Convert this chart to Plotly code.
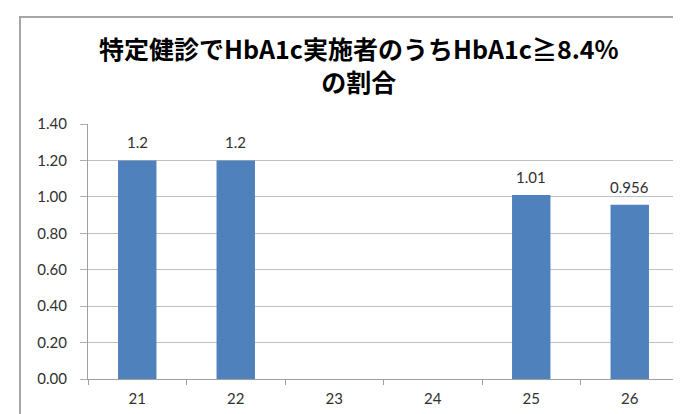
import plotly.graph_objects as go

categories = ["21", "22", "23", "24", "25", "26"]
values = [1.2, 1.2, None, None, 1.01, 0.956]
value_labels = ["1.2", "1.2", "", "", "1.01", "0.956"]
y_ticks = [0, 0.2, 0.4, 0.6, 0.8, 1.0, 1.2, 1.4]
y_tick_labels = ["0.00", "0.20", "0.40", "0.60", "0.80", "1.00", "1.20", "1.40"]
title_text = "<b>特定健診でHbA1c実施者のうちHbA1c≧8.4%<br>の割合</b>"

W, H = 681, 414
L, R, T, B = 80, 10, 116, 43
pw, ph = W - L - R, H - T - B

def px_x(x):
    return (x - L) / pw

def px_y(y):
    return (H - B - y) / ph

fig = go.Figure()
fig.add_trace(go.Bar(
    x=categories, y=values,
    marker=dict(color="#4f81bd", line=dict(width=0)),
    width=0.39,
    hoverinfo="x+y",
))

for i, (v, t) in enumerate(zip(values, value_labels)):
    if v is None:
        continue
    fig.add_annotation(x=i, y=v, xref="x", yref="y", text=t, showarrow=False, yshift=18,
                       font=dict(family="Lato, Open Sans, sans-serif", size=15, color="#303030"))

fig.add_annotation(xref="paper", yref="paper", x=px_x(351), y=px_y(57),
                   text=title_text, showarrow=False, xanchor="center", yanchor="middle",
                   font=dict(family="Noto Sans CJK JP", size=25, color="#000000"),
                   align="center")

fig.add_shape(type="rect", xref="paper", yref="paper",
              x0=px_x(12), y0=px_y(430), x1=px_x(700), y1=px_y(9),
              line=dict(color="#a6a6a6", width=2), fillcolor="rgba(0,0,0,0)", layer="below")

fig.update_layout(
    width=W, height=H,
    margin=dict(l=L, r=R, t=T, b=B, pad=0),
    paper_bgcolor="white", plot_bgcolor="white",
    showlegend=False,
    xaxis=dict(
        type="category", categoryorder="array", categoryarray=categories,
        range=[-0.5, len(categories) - 0.5], autorange=False,
        tickson="boundaries", ticks="outside", ticklen=5,
        tickcolor="#a0a0a0", showline=True, linecolor="#a0a0a0", linewidth=1,
        showgrid=False, tickfont=dict(family="Lato, Open Sans, sans-serif", size=15, color="#303030"),
        ticklabelstandoff=6, tickangle=0, fixedrange=True,
    ),
    yaxis=dict(
        range=[0, 1.4], autorange=False, tickvals=y_ticks, ticktext=y_tick_labels,
        ticks="outside", ticklen=7, tickcolor="#b0b0b0",
        showline=True, linecolor="#a0a0a0", linewidth=1,
        showgrid=True, gridcolor="#bfbfbf", gridwidth=1, zeroline=False,
        tickfont=dict(family="Lato, Open Sans, sans-serif", size=15, color="#303030"),
        ticklabelstandoff=10, fixedrange=True,
    ),
)

fig.write_html("out.html")
